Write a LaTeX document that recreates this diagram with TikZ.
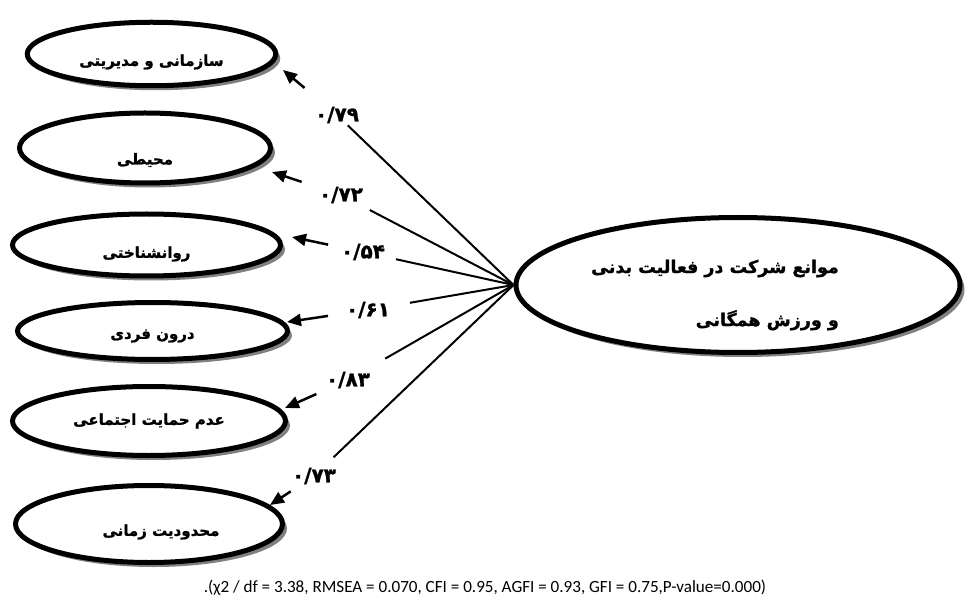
\documentclass[tikz,border=0pt]{standalone}
\usepackage{fontspec}
\setmainfont{Carlito}
\newfontfamily\pfont[Script=Arabic, BoldFeatures={FakeBold=1.2}]{DejaVu Sans}
\TeXXeTstate=1
\usetikzlibrary{shapes.geometric,shadows,arrows.meta}
\begin{document}
\begin{tikzpicture}[x=1pt,y=-1pt,
  factor/.style={ellipse, draw, line width=5pt, fill=white, inner sep=0pt,
    drop shadow={shadow xshift=4.5pt, shadow yshift=-4.5pt, fill=black!50, opacity=1}},
  ftext/.style={font=\pfont\bfseries\fontsize{15}{17}\selectfont, inner sep=0pt},
  bigtext/.style={font=\pfont\bfseries\fontsize{17.5}{53}\selectfont, align=right, inner sep=0pt},
  loadlbl/.style={inner sep=2pt, font=\pfont\bfseries\fontsize{20}{22}\selectfont},
  link/.style={line width=2pt},
  arr/.style={line width=2.5pt, -{Triangle[length=14pt,width=12pt]}},
  caption/.style={font=\fontsize{17.1}{19}\selectfont, inner sep=0pt}]
\useasboundingbox (0,0) rectangle (968,601);

% factors
\node[factor, minimum width=248.5pt, minimum height=63.5pt,
  label={[ftext,yshift=-8pt]center:\beginR سازمانی و مدیریتی\endR}] (e1) at (151.5,54) {};
\node[factor, minimum width=251pt, minimum height=70pt,
  label={[ftext,yshift=-12pt]center:\beginR محیطی\endR}] (e2) at (145,148) {};
\node[factor, minimum width=268pt, minimum height=62pt,
  label={[ftext,yshift=-9pt]center:\beginR روانشناختی\endR}] (e3) at (146.5,245) {};
\node[factor, minimum width=270pt, minimum height=57pt,
  label={[ftext,yshift=-5pt]center:\beginR درون فردی\endR}] (e4) at (152.5,331) {};
\node[factor, minimum width=273pt, minimum height=69pt,
  label={[ftext,yshift=0pt]center:\beginR عدم حمایت اجتماعی\endR}] (e5) at (149,421) {};
\node[factor, minimum width=267pt, minimum height=77pt,
  label={[ftext,xshift=12pt,yshift=-8pt]center:\beginR محدودیت زمانی\endR}] (e6) at (149,524) {};

% construct
\node[factor, minimum width=444pt, minimum height=135pt,
  label={[bigtext,xshift=-23pt,yshift=-10pt]center:\beginR موانع شرکت در فعالیت بدنی\endR\\\beginR و ورزش همگانی\endR}] (big) at (738,285) {};

% loading labels
\node[loadlbl] (l1) at (337,115) {۰/۷۹};
\node[loadlbl] (l2) at (341,195) {۰/۷۲};
\node[loadlbl] (l3) at (363,252) {۰/۵۴};
\node[loadlbl] (l4) at (368,310) {۰/۶۱};
\node[loadlbl] (l5) at (348,380) {۰/۸۳};
\node[loadlbl] (l6) at (314,476) {۰/۷۳};

% arrow tips (free ends)
\coordinate (t1) at (283,70);
\coordinate (t2) at (272,172);
\coordinate (t3) at (292,237);
\coordinate (t4) at (287,322);
\coordinate (t5) at (285,408);
\coordinate (t6) at (270,505);

% connectors
\draw[link] (big.west) -- (l1);
\draw[link, shorten >=10pt] (big.west) -- (l2);
\draw[link, shorten >=9pt] (big.west) -- (l3);
\draw[link, shorten >=18pt] (big.west) -- (l4);
\draw[link, shorten >=22pt] (big.west) -- (l5);
\draw[link, shorten >=12pt] (big.west) -- (l6);

\draw[arr, shorten <=26pt] (l1) -- (t1);
\draw[arr, shorten <=16pt] (l2) -- (t2);
\draw[arr, shorten <=11pt] (l3) -- (t3);
\draw[arr, shorten <=16pt] (l4) -- (t4);
\draw[arr, shorten <=9pt] (l5) -- (t5);
\draw[arr, shorten <=9pt] (l6) -- (t6);

% fit indices
\node[caption] (fit) at (485,588) {.(χ2 / df = 3.38, RMSEA = 0.070, CFI = 0.95, AGFI = 0.93, GFI = 0.75,P-value=0.000)};
\end{tikzpicture}
\end{document}
